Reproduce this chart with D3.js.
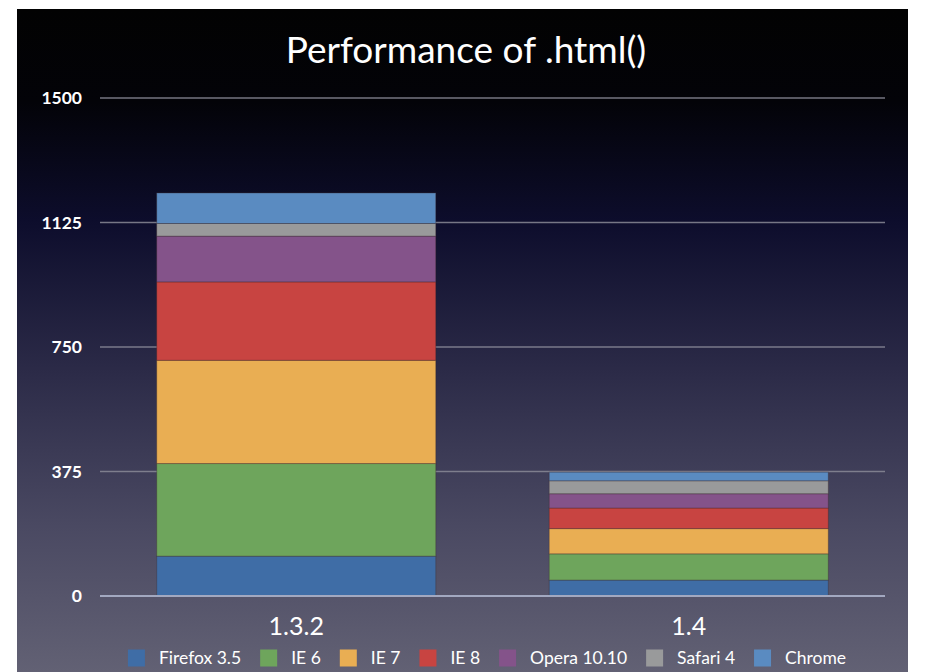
<!DOCTYPE html>
<html>
<head>
<meta charset="utf-8">
<script src="https://cdn.jsdelivr.net/npm/d3@7"></script>
<style>
  html, body { margin: 0; padding: 0; background: #ffffff; }
  svg { display: block; }
  text { font-family: "Lato", "Open Sans", sans-serif; }
</style>
</head>
<body>
<svg id="chart" width="930" height="672"></svg>
<script>
// ---- data ----
const title = "Performance of .html()";
const categories = ["1.3.2", "1.4"];
const seriesNames = ["Firefox 3.5", "IE 6", "IE 7", "IE 8", "Opera 10.10", "Safari 4", "Chrome"];
const seriesColors = ["#3f6da6", "#6ea55c", "#e9ae53", "#c84441", "#84538a", "#999a9b", "#5a8bc1"];
const firefox = [120, 48];
const ie6 = [279, 79];
const ie7 = [311, 76];
const ie8 = [236, 62];
const opera = [138, 43];
const safari = [38, 39];
const chrome = [92, 26];
const yTicks = [0, 375, 750, 1125, 1500];

const seriesValues = [firefox, ie6, ie7, ie8, opera, safari, chrome];
const table = categories.map((c, i) => {
  const row = { category: c };
  seriesNames.forEach((s, j) => { row[s] = seriesValues[j][i]; });
  return row;
});

// ---- layout ----
const svg = d3.select("#chart");
const panel = { x: 17, y: 9, w: 891, h: 663 };
const plot = { left: 100, right: 885, top: 98, bottom: 596 };

const defs = svg.append("defs");
const grad = defs.append("linearGradient").attr("id", "bg").attr("x1", 0).attr("y1", 0).attr("x2", 0).attr("y2", 1);
grad.append("stop").attr("offset", "0%").attr("stop-color", "#020202");
grad.append("stop").attr("offset", "14%").attr("stop-color", "#030308");
grad.append("stop").attr("offset", "32%").attr("stop-color", "#0d0d2c");
grad.append("stop").attr("offset", "55%").attr("stop-color", "#2c2b48");
grad.append("stop").attr("offset", "78%").attr("stop-color", "#4a4962");
grad.append("stop").attr("offset", "100%").attr("stop-color", "#626174");

svg.append("rect").attr("x", panel.x).attr("y", panel.y).attr("width", panel.w).attr("height", panel.h).attr("fill", "url(#bg)");

const y = d3.scaleLinear().domain([0, 1500]).range([plot.bottom, plot.top]);
const x = d3.scaleBand().domain(categories).range([plot.left, plot.right]).paddingInner(0.289).paddingOuter(0.1445);
const color = d3.scaleOrdinal().domain(seriesNames).range(seriesColors);

// gridlines
svg.append("g").selectAll("line").data(yTicks.filter(t => t > 0)).join("line")
  .attr("x1", plot.left).attr("x2", plot.right)
  .attr("y1", d => y(d)).attr("y2", d => y(d))
  .attr("stroke", "#8a8a96").attr("stroke-opacity", 0.85).attr("stroke-width", 1.6);

// y axis labels
const yAxis = d3.axisLeft(y).tickValues(yTicks).tickSize(0).tickPadding(0).tickFormat(d3.format("d"));
const gy = svg.append("g").attr("transform", `translate(${plot.left - 18},0)`).call(yAxis);
gy.select(".domain").remove();
gy.selectAll("text").attr("fill", "#ffffff").attr("font-size", 17.5).attr("font-weight", "bold")
  .attr("font-family", "Lato, sans-serif");

// bars
const stack = d3.stack().keys(seriesNames);
const stacked = stack(table);
svg.append("g").selectAll("g").data(stacked).join("g")
  .attr("fill", d => color(d.key))
  .selectAll("rect").data(d => d).join("rect")
  .attr("x", d => x(d.data.category))
  .attr("width", x.bandwidth())
  .attr("y", d => y(d[1]))
  .attr("height", d => y(d[0]) - y(d[1]))
  .attr("stroke", "rgba(60,40,40,0.35)").attr("stroke-width", 1);

// zero baseline
svg.append("line").attr("x1", plot.left).attr("x2", plot.right)
  .attr("y1", y(0)).attr("y2", y(0))
  .attr("stroke", "#a2a8c0").attr("stroke-width", 2);

// category labels
const xAxis = d3.axisBottom(x).tickSize(0).tickPadding(0);
const gx = svg.append("g").attr("transform", `translate(0,${plot.bottom + 21})`).call(xAxis);
gx.select(".domain").remove();
gx.selectAll("text").attr("fill", "#ffffff").attr("font-size", 25).attr("font-family", "Lato, sans-serif")
  .attr("dy", null).attr("y", 18);

// title
svg.append("text").attr("x", 466).attr("y", 63).attr("text-anchor", "middle")
  .attr("fill", "#ffffff").attr("font-size", 37).text(title);

// legend
const legend = svg.append("g");
const sw = 17, gapText = 14, gapItem = 19, legY = 658;
const items = legend.selectAll("g").data(seriesNames).join("g");
items.append("rect").attr("width", sw).attr("height", sw).attr("y", legY - sw / 2)
  .attr("fill", d => color(d));
items.append("text").attr("x", sw + gapText).attr("y", legY + 6)
  .attr("fill", "#ffffff").attr("font-size", 17.5).text(d => d);
const widths = [];
items.each(function() {
  const tw = d3.select(this).select("text").node().getComputedTextLength();
  widths.push(sw + gapText + tw);
});
const total = d3.sum(widths) + gapItem * (widths.length - 1);
let start = 487 - total / 2;
items.attr("transform", (d, i) => {
  const t = `translate(${start},0)`;
  start += widths[i] + gapItem;
  return t;
});
</script>
</body>
</html>
